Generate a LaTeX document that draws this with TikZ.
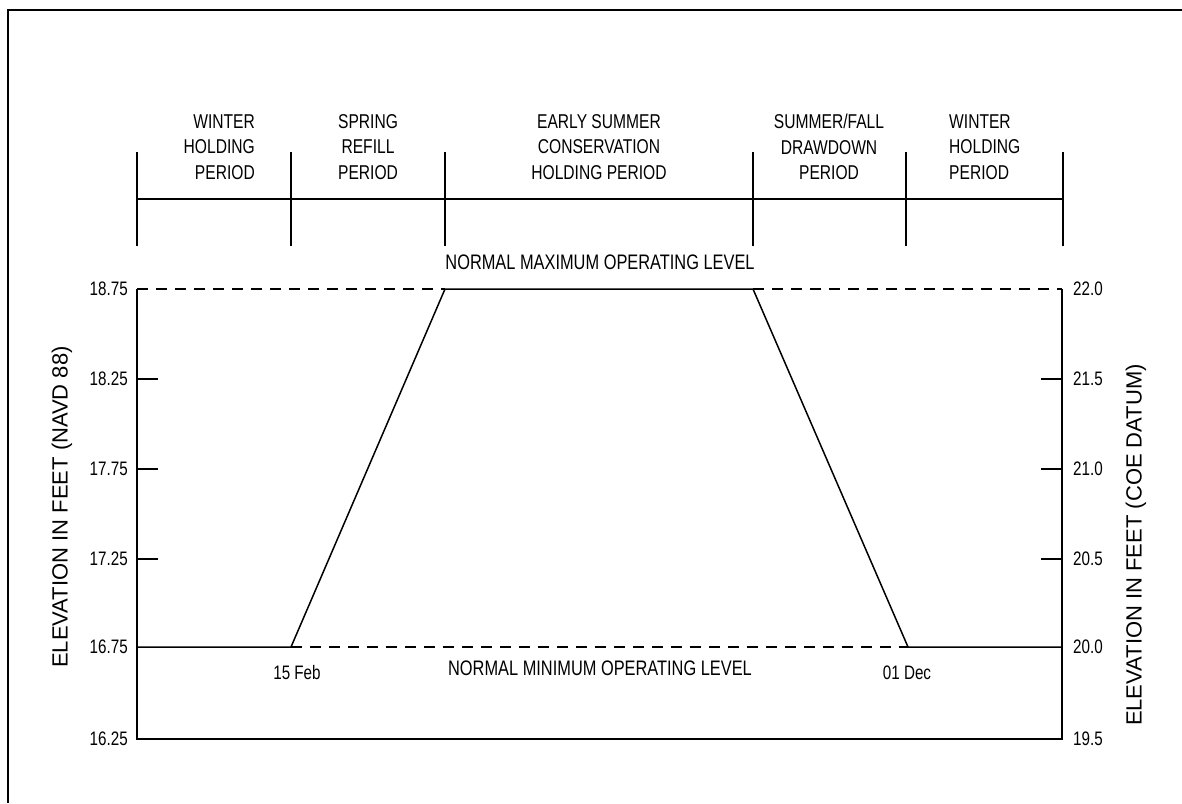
\documentclass[tikz,border=0pt]{standalone}
\usepackage{fontspec}
\setmainfont{Liberation Sans}
\newfontfamily\condsans[FakeStretch=0.78]{Liberation Sans}
\usetikzlibrary{positioning}

\begin{document}
\begin{tikzpicture}[x=1pt, y=-1pt,
    period/.style={font=\condsans\fontsize{20}{25.5}\selectfont, inner sep=0pt},
    ticklbl/.style={font=\condsans\fontsize{19.5}{19.5}\selectfont, inner sep=0pt},
    levellbl/.style={font=\condsans\fontsize{21}{21}\selectfont, inner sep=0pt},
    axislbl/.style={font=\fontsize{22}{22}\selectfont, rotate=90, inner sep=0pt},
    thin/.style={line width=1.5pt},
    level/.style={line width=1.5pt, dash pattern=on 11pt off 8pt}]
    \useasboundingbox (0,0) rectangle (1182,803);
    \draw[line width=2.6pt] (8,803) -- (8,10) -- (1182,10);

    % periods
    \foreach \x in {137,291,445,753,906,1063}
        \draw[thin] (\x,152) -- (\x,246);
    \draw[thin] (137,199) -- (1063,199);
    \node[period, anchor=east, align=right] (winter1) at (255,147) {WINTER\\HOLDING\\PERIOD};
    \node[period, align=center] (spring) at (368,147) {SPRING\\REFILL\\PERIOD};
    \node[period, align=center] (summer) at (599,147) {EARLY SUMMER\\CONSERVATION\\HOLDING PERIOD};
    \node[period, align=center] (fall) at (829,147) {SUMMER/FALL\\DRAWDOWN\\PERIOD};
    \node[period, anchor=west, align=left] (winter2) at (949,147) {WINTER\\HOLDING\\PERIOD};

    % axes
    \draw[thin] (137,289) -- (137,739) -- (1062,739) -- (1062,289);
    \foreach \y/\l/\r in {289/18.75/22.0, 379/18.25/21.5, 469/17.75/21.0, 559/17.25/20.5, 647/16.75/20.0, 739/16.25/19.5} {
        \node[ticklbl, anchor=east] at (128,\y) {\l};
        \node[ticklbl, anchor=west] at (1073,\y) {\r};
    }
    \foreach \y in {379,469,559} {
        \draw[thin] (137,\y) -- (158,\y);
        \draw[thin] (1041,\y) -- (1062,\y);
    }
    \node[axislbl] (navd) at (62,507) {ELEVATION IN FEET (NAVD 88)};
    \node[axislbl] (coe) at (1136,545) {ELEVATION IN FEET (COE DATUM)};

    % operating curve
    \coordinate (lowl) at (137,647);
    \coordinate (feb) at (291,647);
    \coordinate (highl) at (445,289);
    \coordinate (highr) at (753,289);
    \coordinate (dec) at (908,647);
    \coordinate (lowr) at (1062,647);
    \draw[thin] (lowl) -- (feb) -- (highl) -- (highr) -- (dec) -- (lowr);
    \draw[level] (137,289) -- (highl);
    \draw[level] (highr) -- (1062,289);
    \draw[level] (feb) -- (dec);

    \node[levellbl] (maxlvl) at (600,262) {NORMAL MAXIMUM OPERATING LEVEL};
    \node[levellbl] (minlvl) at (600,668) {NORMAL MINIMUM OPERATING LEVEL};
    \node[ticklbl] (febl) at (297,673) {15 Feb};
    \node[ticklbl] (decl) at (907,673) {01 Dec};
\end{tikzpicture}
\end{document}
